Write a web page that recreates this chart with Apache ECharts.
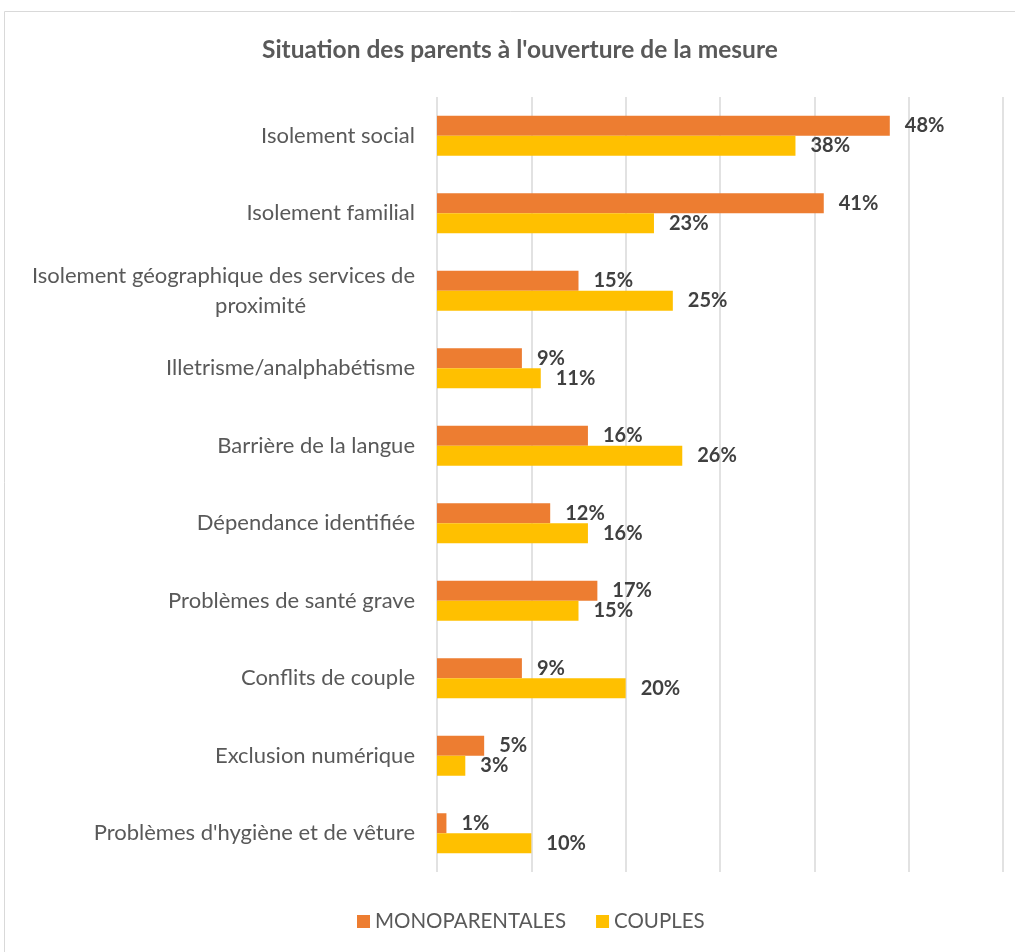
<!DOCTYPE html>
<html><head><meta charset="utf-8">
<script src="https://cdn.jsdelivr.net/npm/echarts@6/dist/echarts.min.js"></script>
<style>html,body{margin:0;padding:0;background:#fff}#c{width:1015px;height:952px}</style>
</head><body><div id="c"></div>
<script>
const categories = ["Isolement social","Isolement familial","Isolement géographique des services de\nproximité","Illetrisme/analphabétisme","Barrière de la langue","Dépendance identifiée","Problèmes de santé grave","Conflits de couple","Exclusion numérique","Problèmes d'hygiène et de vêture"];
const monoparentales = [48,41,15,9,16,12,17,9,5,1];
const couples = [38,23,25,11,26,16,15,20,3,10];
const seriesNames = ["MONOPARENTALES","COUPLES"];

const chart = echarts.init(document.getElementById('c'));
const FONT = 'Lato, "Open Sans", sans-serif';
const lbl = {show:true, position:'right', distance:15, formatter:'{c}%', color:'#404040', fontWeight:'bold', fontSize:20, fontFamily:FONT};
chart.setOption({
  animation:false,
  graphic:[{type:'rect', shape:{x:4.5,y:11.5,width:1030,height:960}, style:{fill:'none', stroke:'#d9d9d9', lineWidth:1}}],
  title:{text:'Situation des parents à l\'ouverture de la mesure', left:257, top:33,
    textStyle:{color:'#595959', fontSize:24.5, fontWeight:'bold', fontFamily:FONT}},
  legend:{data:seriesNames, bottom:15, left:352, itemWidth:13, itemHeight:13, itemGap:30, icon:'rect',
    textStyle:{color:'#595959', fontSize:20.5, fontFamily:FONT}},
  grid:{left:437, right:12, top:97, bottom:80, containLabel:false},
  xAxis:{type:'value', min:0, max:60, interval:10, axisLabel:{show:false}, axisLine:{show:false}, axisTick:{show:false},
    splitLine:{lineStyle:{color:'#d9d9d9', width:1.5}}},
  yAxis:{type:'category', inverse:true, data:categories, axisLine:{show:false}, axisTick:{show:false},
    axisLabel:{color:'#595959', fontSize:22, fontFamily:FONT, margin:22, lineHeight:30,
      formatter:function(v){ if(v.indexOf('\n')>=0){ const p=v.split('\n'); return p[0]+'\n{p|'+p[1]+'}'; } return v; },
      rich:{p:{align:'right', padding:[0,109,0,0], color:'#595959', fontSize:22, fontFamily:FONT, lineHeight:30}}}},
  series:[
    {name:seriesNames[0], type:'bar', data:monoparentales, barWidth:20, barGap:'0%', itemStyle:{color:'#ED7D31'}, label:lbl},
    {name:seriesNames[1], type:'bar', data:couples, barWidth:20, barGap:'0%', itemStyle:{color:'#FFC000'}, label:lbl}
  ]
});
</script></body></html>
